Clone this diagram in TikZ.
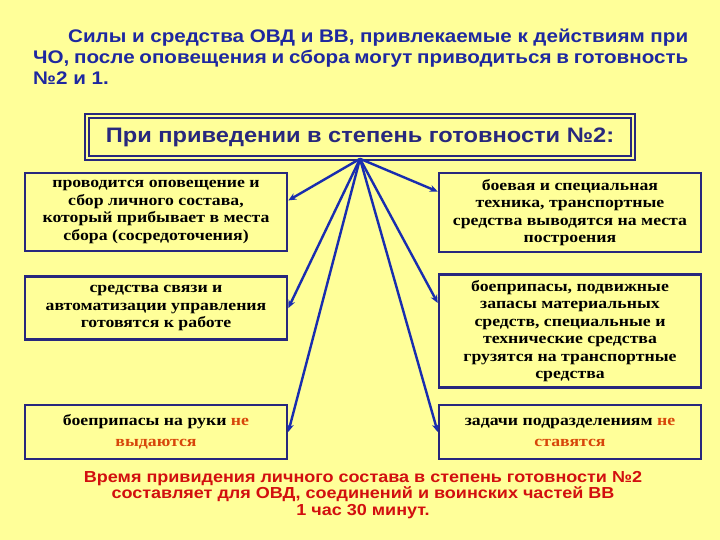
\documentclass[tikz,border=0pt]{standalone}
\usepackage{fontspec}
\setmainfont{Liberation Serif}[FakeStretch=1.15]
\setsansfont{Liberation Sans}[FakeStretch=1.13]
\usepackage{xcolor}
\usepackage{tikz}
\usetikzlibrary{arrows.meta,positioning}

\definecolor{bg}{RGB}{255,255,153}
\definecolor{ttlblue}{RGB}{30,40,160}
\definecolor{navy}{RGB}{40,40,125}
\definecolor{arrblue}{RGB}{25,45,175}
\definecolor{warn}{RGB}{215,70,10}
\definecolor{redtxt}{RGB}{210,15,15}

\begin{document}
\begin{tikzpicture}[
    x=1bp, y=-1bp,
    bx/.style={draw=navy, line width=2.6bp, fill=bg, minimum width=262bp,
      align=center, inner sep=2bp, font=\fontsize{15.5}{17.6}\selectfont\bfseries},
    hd/.style={draw=navy, double=bg, double distance=2.2bp, line width=1.6bp,
      minimum width=546bp, minimum height=42bp, text=navy,
      font=\sffamily\bfseries\fontsize{21}{24}\selectfont},
    arr/.style={arrblue, line width=2.4bp, -{Stealth[length=8bp,width=7bp]}}
  ]
    \useasboundingbox[fill=bg] (0,0) rectangle (720,540);

    % heading text
    \node[anchor=north west, text width=655bp, align=justify, inner sep=0pt,
      text=ttlblue, font=\sffamily\bfseries\fontsize{18.3}{21}\selectfont]
      (intro) at (33,29) {\hspace*{35bp}Силы и средства ОВД и ВВ, привлекаемые к действиям при\linebreak
      ЧО, после оповещения и сбора могут приводиться в готовность\linebreak №2 и 1.};

    \node[hd] (h) at (360,137) {При приведении в степень готовности №2:};
    \coordinate (hub) at (h.south);

    % left column
    \node[bx, minimum height=78bp] (l1) at (156,212) {проводится оповещение и\\ сбор личного состава,\\ который прибывает в места\\ сбора (сосредоточения)};
    \node[bx, minimum height=63bp, below=23bp of l1] (l2) {средства связи и\\ автоматизации управления\\ готовятся к работе};
    \node[bx, minimum height=54bp, font=\fontsize{15.5}{21}\selectfont\bfseries] (l3) at (156,432) {боеприпасы на руки \textcolor{warn}{не}\\ \textcolor{warn}{выдаются}};

    % right column
    \node[bx, minimum height=79bp] (r1) at (570,212.5) {боевая и специальная\\ техника, транспортные\\ средства выводятся на места\\ построения};
    \node[bx, minimum height=113bp, below=20bp of r1] (r2) {боеприпасы, подвижные\\ запасы материальных\\ средств, специальные и\\ технические средства\\ грузятся на транспортные\\ средства};
    \node[bx, minimum height=54bp, font=\fontsize{15.5}{21}\selectfont\bfseries] (r3) at (570,432) {задачи подразделениям \textcolor{warn}{не}\\ \textcolor{warn}{ставятся}};

    \draw[arr] (hub) -- (l1.5);
    \draw[arr] (hub) -- (l2.east);
    \draw[arr] (hub) -- (l3.east);
    \draw[arr] (hub) -- (r1.171);
    \draw[arr] (hub) -- (r2.168);
    \draw[arr] (hub) -- (r3.west);

    \node[align=center, text=redtxt, font=\sffamily\bfseries\fontsize{16}{16.7}\selectfont]
      (note) at (363,495) {Время привидения личного состава в степень готовности №2\\
      составляет для ОВД, соединений и воинских частей ВВ\\ 1 час 30 минут.};
  \end{tikzpicture}
\end{document}
